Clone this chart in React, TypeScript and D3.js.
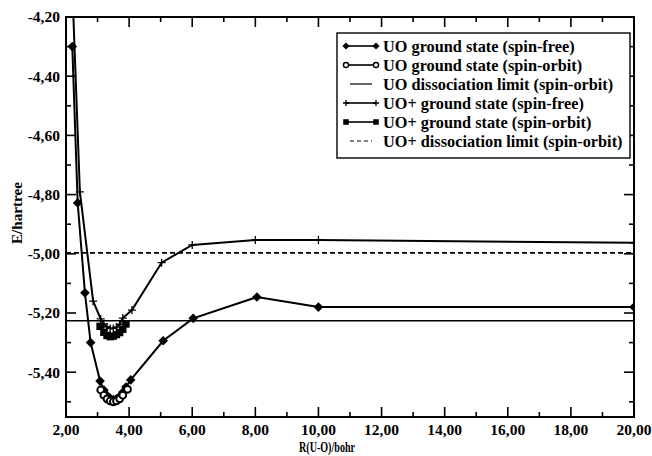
import React from 'react';
import * as d3 from 'd3';

// UO ground state (spin-free)
const uoSfR = [2.2, 2.37, 2.6, 2.78, 3.08, 3.2, 3.3, 3.4, 3.5, 3.6, 3.7, 3.8, 3.9, 4.05, 5.08, 6.03, 8.05, 10.0, 20.0];
const uoSfE = [-4.30, -4.828, -5.132, -5.30, -5.43, -5.46, -5.478, -5.488, -5.492, -5.49, -5.482, -5.468, -5.45, -5.426, -5.294, -5.218, -5.146, -5.18, -5.18];

// UO ground state (spin-orbit)
const uoSoR = [3.1, 3.2, 3.3, 3.4, 3.5, 3.6, 3.7, 3.8, 3.95];
const uoSoE = [-5.46, -5.478, -5.49, -5.497, -5.5, -5.497, -5.49, -5.478, -5.458];

// UO+ ground state (spin-free)
const uopSfR = [2.2, 2.44, 2.86, 3.1, 3.2, 3.3, 3.4, 3.5, 3.6, 3.7, 3.8, 4.09, 5.03, 6.0, 8.0, 10.0, 20.0];
const uopSfE = [-4.10, -4.791, -5.16, -5.22, -5.237, -5.247, -5.252, -5.252, -5.248, -5.238, -5.217, -5.19, -5.03, -4.97, -4.953, -4.953, -4.963];

// UO+ ground state (spin-orbit)
const uopSoR = [3.08, 3.2, 3.3, 3.4, 3.5, 3.6, 3.7, 3.8, 3.9];
const uopSoE = [-5.245, -5.265, -5.276, -5.28, -5.278, -5.273, -5.266, -5.255, -5.237];

// dissociation limits
const uoLimit = -5.226;
const uopLimit = -4.997;

const xTicks = [2, 4, 6, 8, 10, 12, 14, 16, 18, 20];
const xMinor = [3, 5, 7, 9, 11, 13, 15, 17, 19];
const yTicks = [-4.2, -4.4, -4.6, -4.8, -5.0, -5.2, -5.4];
const yMinor = [-4.3, -4.5, -4.7, -4.9, -5.1, -5.3, -5.5];

const legendLabels = [
  'UO ground state (spin-free)',
  'UO ground state (spin-orbit)',
  'UO dissociation limit (spin-orbit)',
  'UO+ ground state (spin-free)',
  'UO+ ground state (spin-orbit)',
  'UO+ dissociation limit (spin-orbit)',
];

const W = 652;
const H = 456;
const margin = { top: 17, right: 18, bottom: 39, left: 66 };
const font = '"Liberation Serif", "DejaVu Serif", serif';
const fmt = (v: number) => d3.format('.2f')(v).replace('.', ',').replace('−', '-');

function Marker({ kind, x, y, s = 1 }: { kind: string; x: number; y: number; s?: number }) {
  if (kind === 'diamond') {
    const h = 4.8 * s;
    return <path d={`M${x},${y - h}L${x + h},${y}L${x},${y + h}L${x - h},${y}Z`} fill="#000" />;
  }
  if (kind === 'circle') {
    return <circle cx={x} cy={y} r={3.4 * s} fill="#fff" stroke="#000" strokeWidth={1.9 * s} />;
  }
  if (kind === 'plus') {
    const h = 4 * s;
    return <path d={`M${x - h},${y}H${x + h}M${x},${y - h}V${y + h}`} stroke="#000" strokeWidth={1.3} />;
  }
  if (kind === 'square') {
    const h = 3.7 * s;
    return <rect x={x - h} y={y - h} width={2 * h} height={2 * h} fill="#000" />;
  }
  return null;
}

export default function App() {
  const innerW = W - margin.left - margin.right;
  const innerH = H - margin.top - margin.bottom;
  const x = d3.scaleLinear().domain([2, 20]).range([margin.left, margin.left + innerW]);
  const y = d3.scaleLinear().domain([-4.2, -4.2 - innerH / 296]).range([margin.top, margin.top + innerH]);
  const line = d3.line<[number, number]>().x((d) => x(d[0])).y((d) => y(d[1]));

  const series = [
    { r: uoSfR, e: uoSfE, kind: 'diamond' },
    { r: uopSfR, e: uopSfE, kind: 'plus' },
    { r: uopSoR, e: uopSoE, kind: 'square' },
    { r: uoSoR, e: uoSoE, kind: 'circle' },
  ];

  const x0 = margin.left;
  const x1 = margin.left + innerW;
  const y0 = margin.top;
  const y1 = margin.top + innerH;

  // legend geometry
  const lgX = 337;
  const lgY = 33;
  const lgW = 293;
  const lgH = 125;
  const lgRow = 19;
  const legendKinds = ['diamond', 'circle', 'solid', 'plus', 'square', 'dashed'];

  return (
    <svg width={W} height={H} style={{ position: 'absolute', left: 0, top: 0, background: '#fff' }}>
      <defs>
        <clipPath id="plot">
          <rect x={x0} y={y0} width={innerW} height={innerH} />
        </clipPath>
      </defs>
      <rect x={0} y={0} width={W} height={H} fill="#fff" />

      <g clipPath="url(#plot)">
        <line x1={x0} x2={x1} y1={y(uoLimit)} y2={y(uoLimit)} stroke="#000" strokeWidth={1.6} />
        <line x1={x0} x2={x1} y1={y(uopLimit)} y2={y(uopLimit)} stroke="#000" strokeWidth={1.6} strokeDasharray="5,3" />
        {series.map((s, i) => {
          const pts = s.r.map((r, j) => [r, s.e[j]] as [number, number]);
          return (
            <g key={i}>
              <path d={line(pts) || ''} fill="none" stroke="#000" strokeWidth={2} />
              {pts.map((p, j) => (
                <Marker key={j} kind={s.kind} x={x(p[0])} y={y(p[1])} />
              ))}
            </g>
          );
        })}
      </g>

      {/* ticks, all four sides inward */}
      <g stroke="#000" strokeWidth={1.6}>
        {xTicks.map((t) => (
          <g key={`xt${t}`}>
            <line x1={x(t)} x2={x(t)} y1={y1} y2={y1 - 10} />
            <line x1={x(t)} x2={x(t)} y1={y0} y2={y0 + 10} />
          </g>
        ))}
        {xMinor.map((t) => (
          <g key={`xm${t}`}>
            <line x1={x(t)} x2={x(t)} y1={y1} y2={y1 - 5} />
            <line x1={x(t)} x2={x(t)} y1={y0} y2={y0 + 5} />
          </g>
        ))}
        {yTicks.map((t) => (
          <g key={`yt${t}`}>
            <line x1={x0} x2={x0 + 10} y1={y(t)} y2={y(t)} />
            <line x1={x1} x2={x1 - 10} y1={y(t)} y2={y(t)} />
          </g>
        ))}
        {yMinor.map((t) => (
          <g key={`ym${t}`}>
            <line x1={x0} x2={x0 + 5} y1={y(t)} y2={y(t)} />
            <line x1={x1} x2={x1 - 5} y1={y(t)} y2={y(t)} />
          </g>
        ))}
      </g>
      <rect x={x0} y={y0} width={innerW} height={innerH} fill="none" stroke="#000" strokeWidth={2} />

      <g fontFamily={font} fontWeight="bold" fontSize={15.5} fill="#000">
        {xTicks.map((t) => (
          <text key={`xl${t}`} x={x(t)} y={435} textAnchor="middle">{fmt(t)}</text>
        ))}
        {yTicks.map((t) => (
          <text key={`yl${t}`} x={60} y={y(t)} dy="0.35em" textAnchor="end">{fmt(t)}</text>
        ))}
        <text x={327} y={452} textAnchor="middle" fontSize={15} textLength={56} lengthAdjust="spacingAndGlyphs">R(U-O)/bohr</text>
        <text transform={`translate(22,${(y0 + y1) / 2 - 4}) rotate(-90)`} textAnchor="middle" fontSize={14} textLength={62} lengthAdjust="spacingAndGlyphs">E/hartree</text>
      </g>

      {/* legend */}
      <rect x={lgX} y={lgY} width={lgW} height={lgH} fill="#fff" stroke="#000" strokeWidth={1.4} />
      {legendLabels.map((lab, i) => {
        const cy = lgY + 13 + i * lgRow;
        const k = legendKinds[i];
        const lx0 = 346;
        const lx1 = 376;
        return (
          <g key={lab}>
            {k === 'solid' && <line x1={lx0 + 4} x2={lx1 - 4} y1={cy} y2={cy} stroke="#000" strokeWidth={1.2} />}
            {k === 'dashed' && <line x1={lx0 + 4} x2={lx1 - 4} y1={cy} y2={cy} stroke="#000" strokeWidth={1.2} strokeDasharray="4,3" />}
            {k !== 'solid' && k !== 'dashed' && (
              <g>
                <line x1={lx0} x2={lx1} y1={cy} y2={cy} stroke="#000" strokeWidth={1.6} />
                <Marker kind={k} x={lx0} y={cy} s={0.75} />
                <Marker kind={k} x={lx1} y={cy} s={0.75} />
              </g>
            )}
            <text x={383} y={cy} dy="0.35em" fontFamily={font} fontWeight="bold" fontSize={16.3}>{lab}</text>
          </g>
        );
      })}
    </svg>
  );
}
